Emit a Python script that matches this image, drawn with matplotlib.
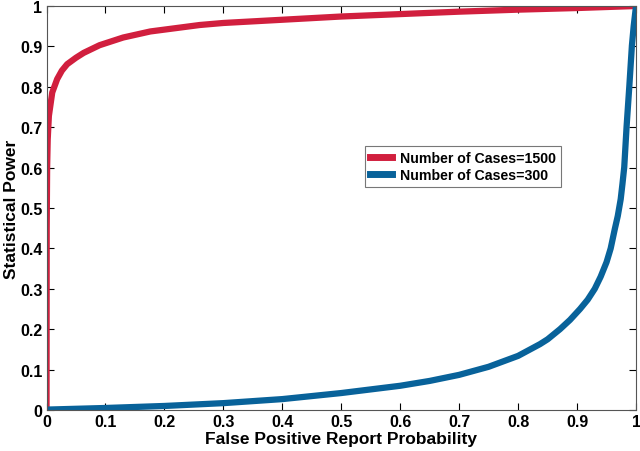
import matplotlib
matplotlib.use("Agg")
import matplotlib.pyplot as plt

plt.rcParams['font.family'] = ['Liberation Sans', 'DejaVu Sans']
plt.rcParams['font.weight'] = 'bold'

red_x = [0, 0.0003, 0.001, 0.002, 0.004, 0.0097, 0.018, 0.026, 0.035, 0.05, 0.063, 0.09,
         0.13, 0.176, 0.26, 0.3, 0.4, 0.5, 0.6, 0.7, 0.8, 0.9, 1.0]
red_y = [0, 0.45, 0.6, 0.67, 0.728, 0.786, 0.819, 0.84, 0.856, 0.872, 0.884, 0.903,
         0.922, 0.937, 0.953, 0.958, 0.966, 0.974, 0.980, 0.986, 0.991, 0.995, 1.0]

blue_x = [0, 0.1, 0.2, 0.3, 0.4, 0.5, 0.6, 0.65, 0.7, 0.75, 0.8, 0.837, 0.85, 0.871,
          0.888, 0.905, 0.918, 0.93, 0.94, 0.95, 0.957, 0.964, 0.969, 0.974, 0.977,
          0.98, 0.984, 0.9886, 0.993, 0.996, 1.0]
blue_y = [0.001, 0.005, 0.01, 0.017, 0.027, 0.042, 0.06, 0.072, 0.087, 0.107, 0.134,
          0.163, 0.175, 0.2, 0.223, 0.25, 0.273, 0.30, 0.33, 0.366, 0.40, 0.448, 0.48,
          0.522, 0.56, 0.601, 0.702, 0.801, 0.902, 0.95, 1.0]

labels = ['Number of Cases=1500', 'Number of Cases=300']
ticks = [0, 0.1, 0.2, 0.3, 0.4, 0.5, 0.6, 0.7, 0.8, 0.9, 1]
tick_labels = ['0', '0.1', '0.2', '0.3', '0.4', '0.5', '0.6', '0.7', '0.8', '0.9', '1']

fig = plt.figure(figsize=(6.4, 4.52), dpi=100)
ax = fig.add_axes([0.0727, 0.0907, 0.9211, 0.8938])

ax.plot(red_x, red_y, color='#d11f3e', lw=4.5, label=labels[0], solid_joinstyle='round')
ax.plot(blue_x, blue_y, color='#08629a', lw=4.5, label=labels[1], solid_joinstyle='round')

ax.set_xlim(0, 1)
ax.set_ylim(0, 1)
ax.set_xticks(ticks)
ax.set_xticklabels(tick_labels, fontsize=11.5, fontweight='bold')
ax.set_yticks(ticks)
ax.set_yticklabels(tick_labels, fontsize=11.5, fontweight='bold')
ax.tick_params(direction='in', top=True, right=True, length=5, width=0.8, pad=3)
for s in ax.spines.values():
    s.set_linewidth(0.8)
    s.set_color('#555555')

ax.set_xlabel('False Positive Report Probability', fontsize=12.5, fontweight='bold', labelpad=1)
ax.set_ylabel('Statistical Power', fontsize=12.5, fontweight='bold')
ax.yaxis.set_label_coords(-0.047, 0.5)

leg = ax.legend(loc='upper left', bbox_to_anchor=(0.540, 0.653), borderaxespad=0,
                fancybox=False, edgecolor='#777777', framealpha=1,
                prop={'size': 10.2, 'weight': 'bold'},
                handlelength=1.6, handletextpad=0.55, borderpad=0.35, labelspacing=0.2)
leg.get_frame().set_linewidth(0.8)
for h in leg.get_lines():
    h.set_linewidth(5)

fig.savefig('out.png', dpi=100)
